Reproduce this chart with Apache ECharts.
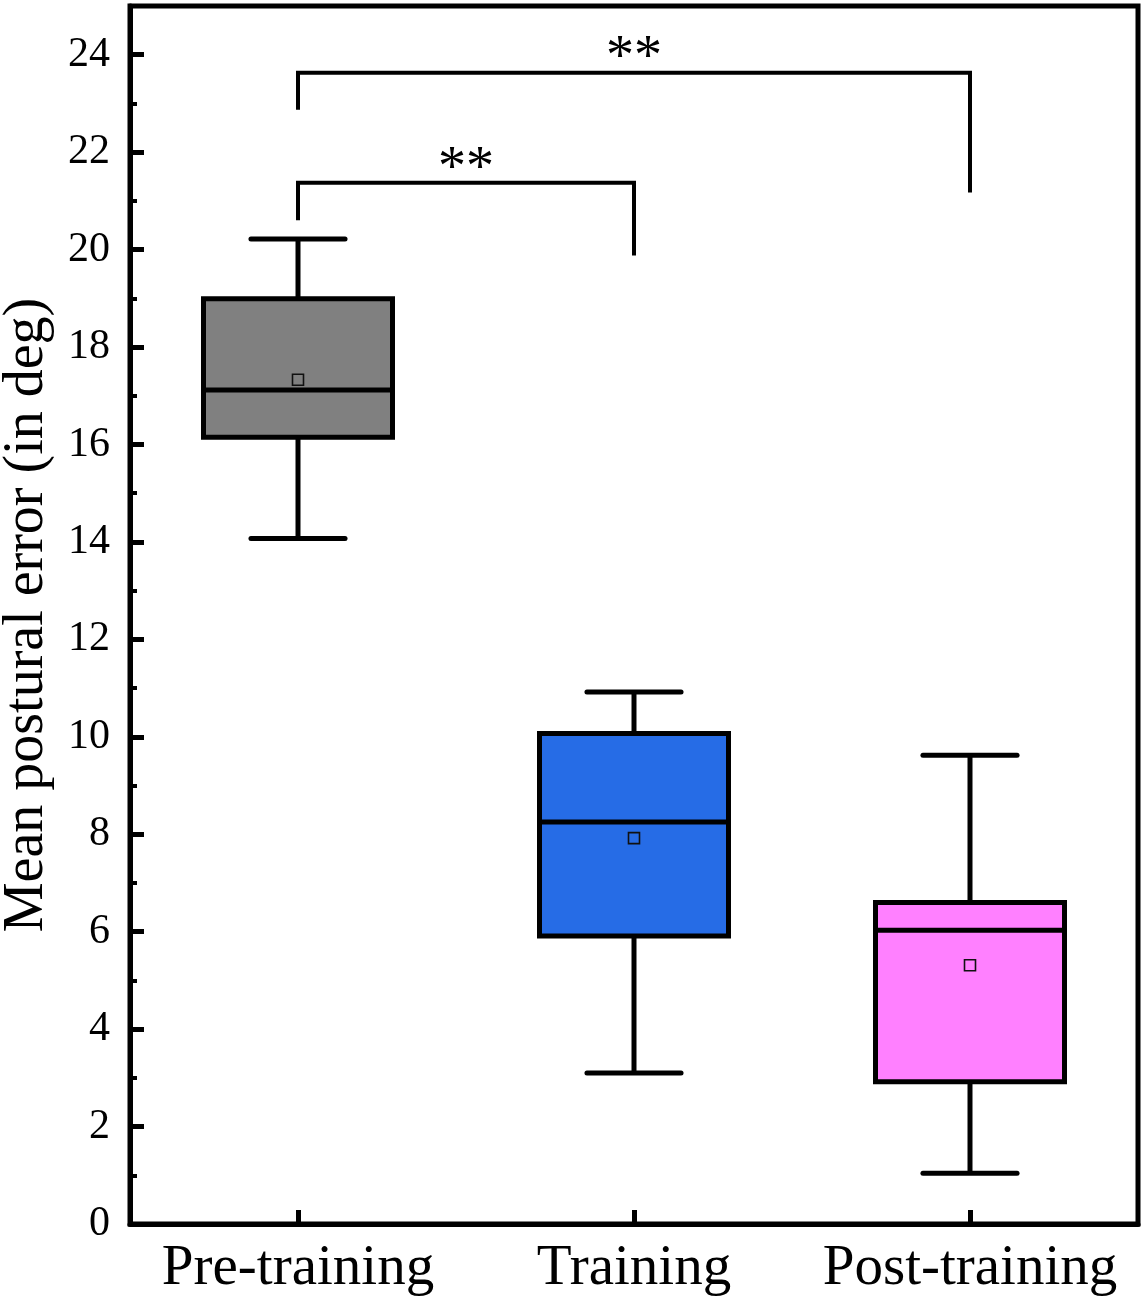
<!DOCTYPE html>
<html><head><meta charset="utf-8">
<script src="https://cdn.jsdelivr.net/npm/echarts@6/dist/echarts.min.js"></script>
<style>html,body{margin:0;padding:0;background:#fff}#c{width:1143px;height:1300px}</style>
</head><body><div id="c"></div>
<script>
// ---- data ----
const categories = ['Pre-training', 'Training', 'Post-training'];
const whiskerLow = [14.07, 3.10, 1.04];
const q1 = [16.15, 5.91, 2.92];
const medians = [17.12, 8.25, 6.03];
const q3 = [18.99, 10.07, 6.60];
const whiskerHigh = [20.22, 10.92, 9.62];
const means = [17.33, 7.92, 5.31];
const boxColors = ['#808080', '#266CE6', '#FF80FF'];

const bracketFrom = [0, 0];
const bracketTo = [1, 2];
const bracketLeftEnd = [20.6, 22.87];
const bracketTop = [21.37, 23.63];
const bracketRightEnd = [19.88, 21.17];
const bracketLabels = ['**', '**'];

const yMin = 0, yMax = 25, yMajor = 2, yMinor = 1;

const FONT = "'Liberation Serif', 'Times New Roman', serif";

const boxData = categories.map((c, i) => [i, whiskerLow[i], q1[i], medians[i], q3[i], whiskerHigh[i], means[i]]);
const bracketData = bracketFrom.map((f, i) => [f, bracketTo[i], bracketLeftEnd[i], bracketTop[i], bracketRightEnd[i]]);

function renderBox(params, api) {
  const i = api.value(0);
  const band = api.size([1, 0])[0];
  const bw = band * 0.5625;
  const cw = band * 0.28;
  const pLo = api.coord([i, api.value(1)]);
  const pQ1 = api.coord([i, api.value(2)]);
  const pMed = api.coord([i, api.value(3)]);
  const pQ3 = api.coord([i, api.value(4)]);
  const pHi = api.coord([i, api.value(5)]);
  const pMean = api.coord([i, api.value(6)]);
  const x = pLo[0];
  const ls = { stroke: '#000', lineWidth: 5, lineCap: 'round' };
  const ms = 11;
  return {
    type: 'group',
    children: [
      { type: 'line', shape: { x1: x, y1: pQ1[1], x2: x, y2: pLo[1] }, style: Object.assign({}, ls, {lineCap:'butt'}) },
      { type: 'line', shape: { x1: x, y1: pQ3[1], x2: x, y2: pHi[1] }, style: Object.assign({}, ls, {lineCap:'butt'}) },
      { type: 'line', shape: { x1: x - cw / 2, y1: pLo[1], x2: x + cw / 2, y2: pLo[1] }, style: ls },
      { type: 'line', shape: { x1: x - cw / 2, y1: pHi[1], x2: x + cw / 2, y2: pHi[1] }, style: ls },
      { type: 'rect', shape: { x: x - bw / 2, y: pQ3[1], width: bw, height: pQ1[1] - pQ3[1] },
        style: { fill: boxColors[i], stroke: '#000', lineWidth: 5, lineJoin: 'miter' } },
      { type: 'line', shape: { x1: x - bw / 2, y1: pMed[1], x2: x + bw / 2, y2: pMed[1] }, style: Object.assign({}, ls, {lineCap:'butt'}) },
      { type: 'rect', shape: { x: pMean[0] - ms / 2, y: pMean[1] - ms / 2, width: ms, height: ms },
        style: { fill: 'none', stroke: '#111', lineWidth: 1.6 } }
    ]
  };
}

function renderBracket(params, api) {
  const a = api.value(0), b = api.value(1);
  const pL = api.coord([a, api.value(2)]);
  const pLT = api.coord([a, api.value(3)]);
  const pR = api.coord([b, api.value(4)]);
  const pRT = api.coord([b, api.value(3)]);
  const label = bracketLabels[params.dataIndex];
  return {
    type: 'group',
    children: [
      { type: 'polyline', shape: { points: [pL, pLT, pRT, pR] },
        style: { fill: 'none', stroke: '#000', lineWidth: 4, lineJoin: 'miter' } },
      { type: 'text', x: (pLT[0] + pRT[0]) / 2, y: pLT[1] - 13,
        style: { text: label, font: '56px ' + FONT, fill: '#000', align: 'center', verticalAlign: 'middle' } }
    ]
  };
}

const chart = echarts.init(document.getElementById('c'), null, { renderer: 'canvas' });
chart.setOption({
  backgroundColor: '#fff',
  animation: false,
  grid: { left: 130, right: 5, top: 6, bottom: 76, containLabel: false, outerBoundsMode: 'none',
          show: true, borderColor: '#000', borderWidth: 5, backgroundColor: 'transparent' },
  xAxis: {
    type: 'category',
    data: categories,
    boundaryGap: true,
    axisLine: { lineStyle: { color: '#000', width: 5 } },
    axisTick: { show: true, interval: 0, alignWithLabel: true, inside: true, length: 14, lineStyle: { color: '#000', width: 5 } },
    axisLabel: { interval: 0, hideOverlap: false, color: '#000', fontFamily: FONT, fontSize: 57, margin: 17 },
    splitLine: { show: false }
  },
  yAxis: [
    {
      type: 'value', min: yMin, max: yMax, interval: yMajor,
      name: 'Mean postural error (in deg)', nameLocation: 'middle', nameRotate: 90, nameGap: 75,
      nameTextStyle: { color: '#000', fontFamily: FONT, fontSize: 56 },
      axisLine: { show: true, lineStyle: { color: '#000', width: 5 } },
      axisTick: { show: true, inside: true, length: 14, lineStyle: { color: '#000', width: 5 } },
      axisLabel: { color: '#000', fontFamily: FONT, fontSize: 42, margin: 20, showMaxLabel: false },
      splitLine: { show: false }
    },
    {
      type: 'value', min: yMin, max: yMax, interval: yMinor, position: 'left', offset: 0,
      axisLine: { show: false },
      axisTick: { show: true, inside: true, length: 7, lineStyle: { color: '#000', width: 4 } },
      axisLabel: { show: false },
      splitLine: { show: false }
    }
  ],
  series: [
    { type: 'custom', renderItem: renderBox, data: boxData, encode: { x: 0, y: [1, 2, 3, 4, 5, 6] }, clip: false, z: 3 },
    { type: 'custom', renderItem: renderBracket, data: bracketData, encode: { x: [0, 1], y: [2, 3, 4] }, clip: false, z: 3 }
  ]
});
</script>
</body></html>
